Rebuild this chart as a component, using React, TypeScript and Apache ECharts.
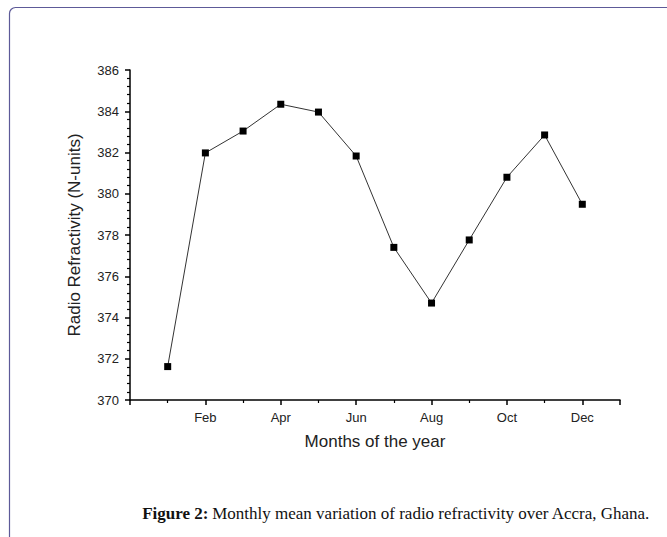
import React, { useEffect, useRef } from "react";
import * as echarts from "echarts";

const monthNames = ["", "Jan", "Feb", "Mar", "Apr", "May", "Jun", "Jul", "Aug", "Sep", "Oct", "Nov", "Dec", ""];
const months = [1, 2, 3, 4, 5, 6, 7, 8, 9, 10, 11, 12];
const refractivity = [371.62, 381.98, 383.04, 384.34, 383.96, 381.83, 377.4, 374.7, 377.76, 380.8, 382.85, 379.49];
const majorXTicks = [0, 2, 4, 6, 8, 10, 12, 13];
const minorXTicks = [1, 3, 5, 7, 9, 11];
const labelXTicks = [2, 4, 6, 8, 10, 12];

export default function App() {
  const ref = useRef<HTMLDivElement>(null);
  useEffect(() => {
    if (!ref.current) return;
    const chart = echarts.init(ref.current, undefined, { renderer: "svg" });
    const axisFont = { fontFamily: "'Liberation Sans', Arial, sans-serif", color: "#222" };
    chart.setOption({
      animation: false,
      backgroundColor: "#fff",
      grid: { left: 130, right: 47, top: 70, bottom: 137 },
      xAxis: [
        {
          type: "value",
          min: 0,
          max: 13,
          interval: 1,
          name: "Months of the year",
          nameLocation: "middle",
          nameGap: 33,
          nameTextStyle: { ...axisFont, fontSize: 17 },
          axisLine: { show: true, onZero: false, lineStyle: { color: "#000", width: 1.5 } },
          axisTick: { show: true, customValues: majorXTicks, length: 5, lineStyle: { color: "#000", width: 1.5 } },
          axisLabel: {
            customValues: labelXTicks,
            margin: 11,
            fontSize: 13,
            ...axisFont,
            formatter: (v: number) => monthNames[Math.round(v)] || "",
          },
          splitLine: { show: false },
        },
        {
          type: "value",
          min: 0,
          max: 13,
          interval: 1,
          position: "bottom",
          axisLine: { show: false },
          axisTick: { show: true, customValues: minorXTicks, length: 3, lineStyle: { color: "#000", width: 1.2 } },
          axisLabel: { show: false },
          splitLine: { show: false },
        },
      ],
      yAxis: {
        type: "value",
        min: 370,
        max: 386,
        interval: 2,
        name: "Radio Refractivity (N-units)",
        nameLocation: "middle",
        nameGap: 47,
        nameTextStyle: { ...axisFont, fontSize: 17 },
        axisLine: { show: true, lineStyle: { color: "#000", width: 1.5 } },
        axisTick: { show: true, length: 5, lineStyle: { color: "#000", width: 1.5 } },
        minorTick: { show: true, splitNumber: 5, length: 3, lineStyle: { color: "#000", width: 1.2 } },
        axisLabel: { margin: 11, fontSize: 13, ...axisFont },
        splitLine: { show: false },
      },
      series: [
        {
          type: "line",
          xAxisIndex: 0,
          data: months.map((m, i) => [m, refractivity[i]]),
          symbol: "rect",
          symbolSize: 7,
          showAllSymbol: true,
          lineStyle: { color: "#333", width: 1 },
          itemStyle: { color: "#000" },
        },
      ],
      graphic: [
        {
          type: "rect",
          shape: { x: 9.5, y: 7.5, width: 720, height: 600, r: [6, 0, 0, 0] },
          style: { fill: "none", stroke: "#5d5a98", lineWidth: 1.2 },
          silent: true,
        },
        {
          type: "text",
          x: 396,
          y: 513,
          style: {
            rich: {
              b: { fontWeight: "bold", fontSize: 17, fontFamily: "'Liberation Serif', 'Times New Roman', serif", fill: "#111" },
              n: { fontSize: 17, fontFamily: "'Liberation Serif', 'Times New Roman', serif", fill: "#111" },
            },
            text: "{b|Figure 2:} {n|Monthly mean variation of radio refractivity over Accra, Ghana.}",
            align: "center",
            verticalAlign: "middle",
          },
        },
      ],
    });
    return () => chart.dispose();
  }, []);
  return <div ref={ref} style={{ position: "fixed", left: 0, top: 0, width: 667, height: 537 }} />;
}
